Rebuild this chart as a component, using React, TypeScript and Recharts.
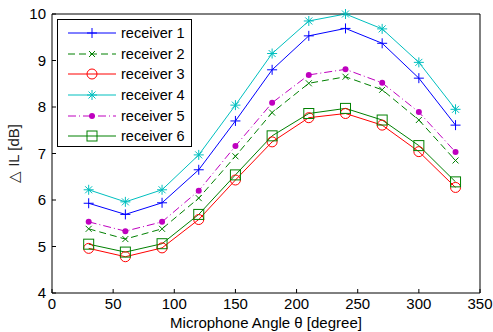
import { Line, LineChart, XAxis, YAxis } from "recharts";

document.body.style.margin = "0";

const FONT = "'Liberation Sans', Arial, sans-serif";

const angles = [30, 60, 90, 120, 150, 180, 210, 240, 270, 300, 330];
const receiver1 = [5.93, 5.69, 5.94, 6.65, 7.7, 8.8, 9.53, 9.69, 9.37, 8.62, 7.61];
const receiver2 = [5.38, 5.16, 5.38, 6.04, 6.94, 7.88, 8.51, 8.65, 8.37, 7.72, 6.85];
const receiver3 = [4.96, 4.78, 4.97, 5.58, 6.43, 7.25, 7.77, 7.86, 7.61, 7.04, 6.27];
const receiver4 = [6.22, 5.96, 6.22, 6.97, 8.04, 9.15, 9.85, 10.0, 9.68, 8.96, 7.95];
const receiver5 = [5.53, 5.33, 5.53, 6.2, 7.16, 8.09, 8.69, 8.81, 8.52, 7.89, 7.03];
const receiver6 = [5.05, 4.88, 5.06, 5.69, 6.54, 7.38, 7.86, 7.97, 7.72, 7.17, 6.39];

const xTicks = [0, 50, 100, 150, 200, 250, 300, 350];
const yTicks = [4, 5, 6, 7, 8, 9, 10];

const data = angles.map((angle, i) => ({
  angle,
  r1: receiver1[i],
  r2: receiver2[i],
  r3: receiver3[i],
  r4: receiver4[i],
  r5: receiver5[i],
  r6: receiver6[i],
}));

type Marker = "plus" | "cross" | "circle" | "star" | "dot" | "square";

function drawMarker(kind: Marker, cx: number, cy: number, color: string, key?: string) {
  switch (kind) {
    case "plus":
      return (
        <g key={key} stroke={color} strokeWidth={1}>
          <line x1={cx - 5} y1={cy} x2={cx + 5} y2={cy} />
          <line x1={cx} y1={cy - 5} x2={cx} y2={cy + 5} />
        </g>
      );
    case "cross":
      return (
        <g key={key} stroke={color} strokeWidth={1}>
          <line x1={cx - 3} y1={cy - 3} x2={cx + 3} y2={cy + 3} />
          <line x1={cx - 3} y1={cy + 3} x2={cx + 3} y2={cy - 3} />
        </g>
      );
    case "circle":
      return <circle key={key} cx={cx} cy={cy} r={5} fill="none" stroke={color} strokeWidth={1} />;
    case "star":
      return (
        <g key={key} stroke={color} strokeWidth={1}>
          <line x1={cx - 5} y1={cy} x2={cx + 5} y2={cy} />
          <line x1={cx} y1={cy - 5} x2={cx} y2={cy + 5} />
          <line x1={cx - 3.5} y1={cy - 3.5} x2={cx + 3.5} y2={cy + 3.5} />
          <line x1={cx - 3.5} y1={cy + 3.5} x2={cx + 3.5} y2={cy - 3.5} />
        </g>
      );
    case "dot":
      return <circle key={key} cx={cx} cy={cy} r={3} fill={color} stroke="none" />;
    case "square":
      return (
        <rect key={key} x={cx - 5} y={cy - 5} width={10} height={10} fill="none" stroke={color} strokeWidth={1} />
      );
  }
}

const series = [
  { key: "r1", name: "receiver 1", color: "#0000ff", dash: undefined, marker: "plus" as Marker },
  { key: "r2", name: "receiver 2", color: "#008000", dash: "7 4", marker: "cross" as Marker },
  { key: "r3", name: "receiver 3", color: "#ff0000", dash: undefined, marker: "circle" as Marker },
  { key: "r4", name: "receiver 4", color: "#00bfbf", dash: undefined, marker: "star" as Marker },
  { key: "r5", name: "receiver 5", color: "#bf00bf", dash: "8 3 1 3", marker: "dot" as Marker },
  { key: "r6", name: "receiver 6", color: "#008000", dash: undefined, marker: "square" as Marker },
];

function LegendBox() {
  return (
    <div
      style={{
        position: "absolute",
        left: 57,
        top: 19,
        width: 135,
        height: 128,
        border: "1px solid #000",
        background: "#fff",
        fontFamily: FONT,
        fontSize: 14.5,
        boxSizing: "border-box",
        paddingTop: 3,
      }}
    >
      {series.map((s) => (
        <div key={s.key} style={{ display: "flex", alignItems: "center", height: 20.6 }}>
          <svg width={58} height={14} style={{ flex: "none" }}>
            <line x1={10} y1={7} x2={58} y2={7} stroke={s.color} strokeWidth={1} strokeDasharray={s.dash} />
            {drawMarker(s.marker, 34, 7, s.color)}
          </svg>
          <span style={{ marginLeft: 5, color: "#000" }}>{s.name}</span>
        </div>
      ))}
    </div>
  );
}

export default function App() {
  const tickStyle = { fill: "#000", fontSize: 15, fontFamily: FONT };
  return (
    <div style={{ position: "relative", width: 493, height: 332, background: "#fff" }}>
      <LineChart width={493} height={332} data={data} margin={{ top: 13, right: 12, bottom: 0, left: 8 }}>
        <XAxis
          xAxisId="bottom"
          dataKey="angle"
          type="number"
          domain={[0, 350]}
          ticks={xTicks}
          height={39}
          tick={tickStyle}
          tickSize={-4}
          tickMargin={9}
          stroke="#000"
          label={{
            value: "Microphone Angle θ [degree]",
            position: "insideBottom",
            offset: 4,
            fill: "#000",
            fontSize: 15,
            fontFamily: FONT,
          }}
        />
        <XAxis
          xAxisId="top"
          orientation="top"
          type="number"
          domain={[0, 350]}
          ticks={xTicks}
          height={1}
          tick={false}
          tickSize={-4}
          stroke="#000"
        />
        <YAxis
          yAxisId="left"
          type="number"
          domain={[4, 10]}
          ticks={yTicks}
          width={44}
          tick={tickStyle}
          tickSize={-4}
          tickMargin={10}
          stroke="#000"
          label={({ viewBox }: any) => {
            const cx = 13;
            const cy = viewBox.y + viewBox.height / 2;
            return (
              <text
                x={cx}
                y={cy}
                transform={`rotate(-90 ${cx} ${cy})`}
                textAnchor="middle"
                dominantBaseline="central"
                fill="#222"
                fontSize={15}
                fontFamily={FONT}
              >
                △ IL [dB]
              </text>
            );
          }}
        />
        <YAxis
          yAxisId="right"
          orientation="right"
          type="number"
          domain={[4, 10]}
          ticks={yTicks}
          width={1}
          tick={false}
          tickSize={-4}
          stroke="#000"
        />
        {series.map((s) => (
          <Line
            key={s.key}
            xAxisId="bottom"
            yAxisId="left"
            type="linear"
            dataKey={s.key}
            name={s.name}
            stroke={s.color}
            strokeWidth={1}
            strokeDasharray={s.dash}
            isAnimationActive={false}
            dot={(p: any) => drawMarker(s.marker, p.cx, p.cy, s.color, `${s.key}-${p.index}`)}
            activeDot={false}
          />
        ))}
      </LineChart>
      <LegendBox />
    </div>
  );
}
